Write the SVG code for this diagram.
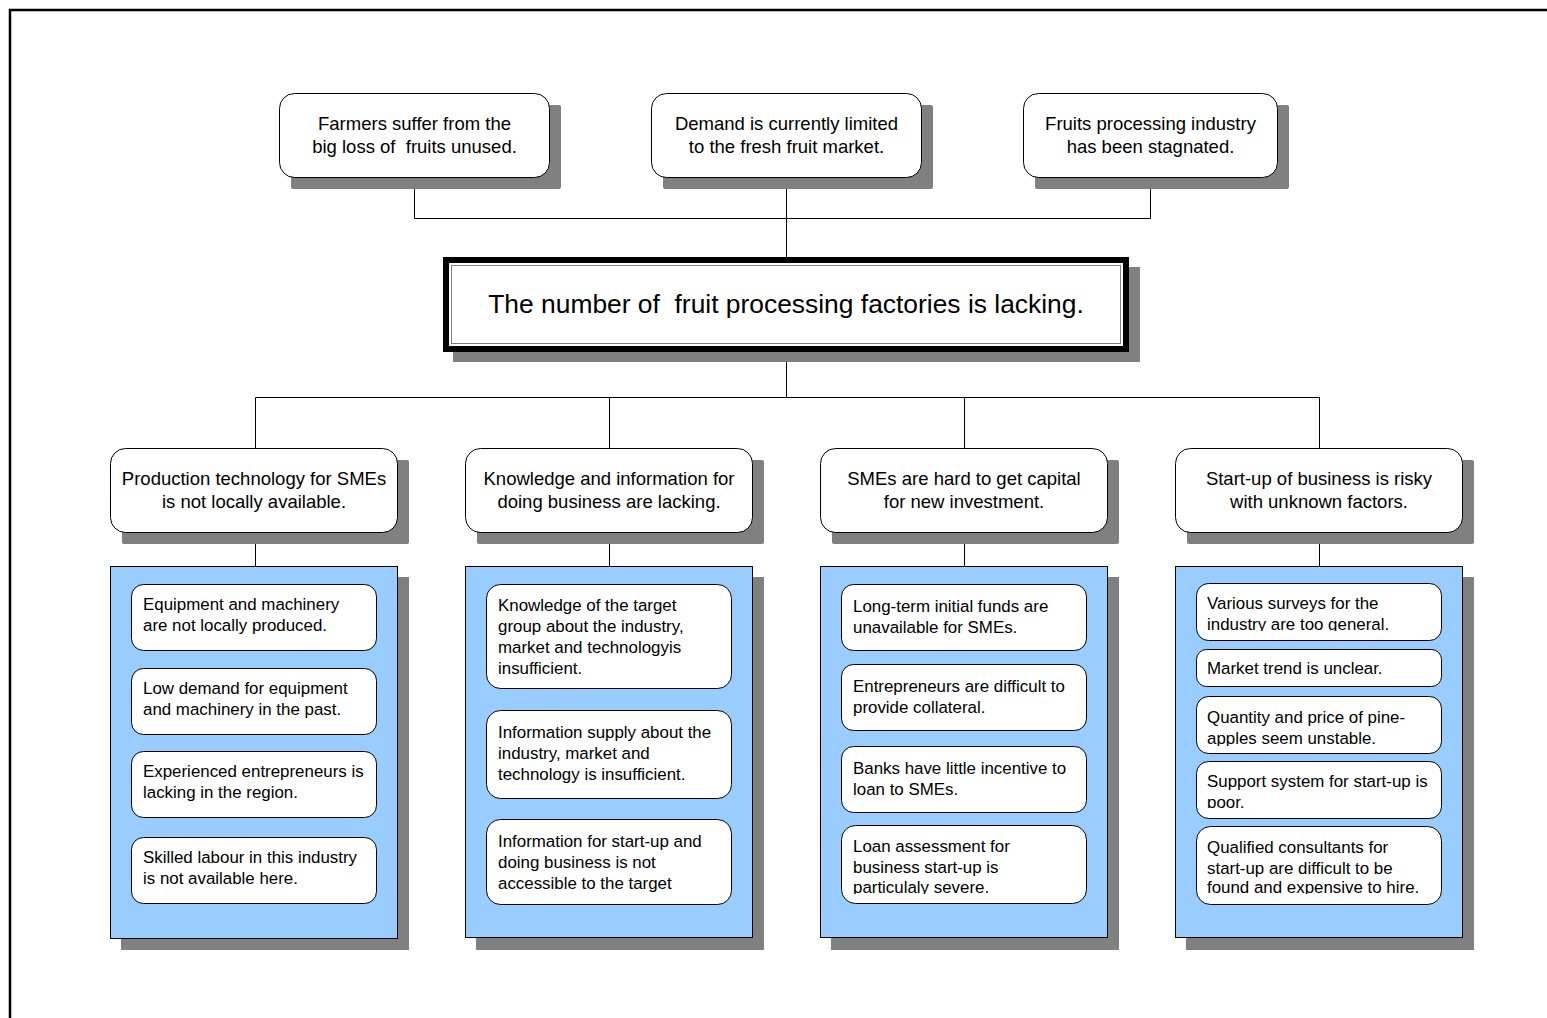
<svg xmlns="http://www.w3.org/2000/svg" width="1547" height="1018" viewBox="0 0 1547 1018">
  <style>
    .shadow { fill: #808080; }
    .box { fill: #ffffff; stroke: #000000; stroke-width: 1; }
    .panel { fill: #99ccff; stroke: #000000; stroke-width: 1; }
    .card { fill: #ffffff; stroke: #000000; stroke-width: 1; }
    .wire { fill: none; stroke: #000000; stroke-width: 1; }
    text { font-family: "Liberation Sans", Arial, sans-serif; fill: #000000; white-space: pre; }
    .t18 { font-size: 18.5px; text-anchor: middle; }
    .t17 { font-size: 16.9px; }
    .t26 { font-size: 26.4px; text-anchor: middle; }
  </style>
  <defs>
    <clipPath id="clipP3c4"><rect x="841" y="826" width="246" height="68"/></clipPath>
    <clipPath id="clipP4c1"><rect x="1196" y="584" width="246" height="47"/></clipPath>
    <clipPath id="clipP4c3"><rect x="1196" y="697" width="246" height="49"/></clipPath>
    <clipPath id="clipP4c4"><rect x="1196" y="762" width="246" height="46"/></clipPath>
    <clipPath id="clipP4c5"><rect x="1196" y="827" width="246" height="67"/></clipPath>
  </defs>

  <rect x="0" y="0" width="1547" height="1018" fill="#ffffff"/>
  <!-- page frame (top and left edges) -->
  <path d="M10,1018 V10 H1547" fill="none" stroke="#000000" stroke-width="2.5"/>

  <!-- connectors -->
  <g id="connectors">
    <path class="wire" d="M414.5,177 V218.5 H1150.5 V177 M786.5,177 V257"/>
    <path class="wire" d="M786.5,352 V397.5 M255.5,448 V397.5 H1319.5 V448 M609.5,397.5 V448 M964.5,397.5 V448"/>
    <path class="wire" d="M255.5,532 V566 M609.5,532 V566 M964.5,532 V566 M1319.5,532 V566"/>
  </g>

  <!-- effects -->
  <g id="effect-farmers">
    <rect class="shadow" x="291" y="105" width="270" height="84" rx="2"/>
    <rect class="box" x="279.5" y="93.5" width="270" height="84" rx="15"/>
    <text class="t18" x="414.5" y="130">Farmers suffer from the</text>
    <text class="t18" x="414.5" y="153">big loss of  fruits unused.</text>
  </g>
  <g id="effect-demand">
    <rect class="shadow" x="663" y="105" width="270" height="84" rx="2"/>
    <rect class="box" x="651.5" y="93.5" width="270" height="84" rx="15"/>
    <text class="t18" x="786.5" y="130">Demand is currently limited</text>
    <text class="t18" x="786.5" y="153">to the fresh fruit market.</text>
  </g>
  <g id="effect-industry">
    <rect class="shadow" x="1035" y="105" width="254" height="84" rx="2"/>
    <rect class="box" x="1023.5" y="93.5" width="254" height="84" rx="15"/>
    <text class="t18" x="1150.5" y="130">Fruits processing industry</text>
    <text class="t18" x="1150.5" y="153">has been stagnated.</text>
  </g>

  <!-- core problem -->
  <g id="core-problem">
    <rect class="shadow" x="453" y="267" width="687" height="95"/>
    <rect x="443" y="257" width="686" height="95" fill="#000000"/>
    <rect x="449" y="263" width="674" height="83" fill="#ffffff"/>
    <rect x="451.5" y="265.5" width="669" height="78" fill="none" stroke="#808080" stroke-width="1"/>
    <text class="t26" x="786" y="313">The number of  fruit processing factories is lacking.</text>
  </g>

  <!-- cause 1 -->
  <g id="cause-technology">
    <rect class="shadow" x="122" y="460" width="287" height="84" rx="2"/>
    <rect class="box" x="110.5" y="448.5" width="287" height="84" rx="15"/>
    <text class="t18" x="254" y="485">Production technology for SMEs</text>
    <text class="t18" x="254" y="508">is not locally available.</text>
  </g>
  <g id="panel-technology">
    <rect class="shadow" x="121" y="577" width="288" height="373"/>
    <rect class="panel" x="110.5" y="566.5" width="287" height="372"/>
    <rect class="card" x="131.5" y="584.5" width="245" height="66" rx="12"/>
    <text class="t17" x="143" y="610">Equipment and machinery</text>
    <text class="t17" x="143" y="631">are not locally produced.</text>
    <rect class="card" x="131.5" y="668.5" width="245" height="66" rx="12"/>
    <text class="t17" x="143" y="694">Low demand for equipment</text>
    <text class="t17" x="143" y="715">and machinery in the past.</text>
    <rect class="card" x="131.5" y="751.5" width="245" height="66" rx="12"/>
    <text class="t17" x="143" y="777">Experienced entrepreneurs is</text>
    <text class="t17" x="143" y="798">lacking in the region.</text>
    <rect class="card" x="131.5" y="837.5" width="245" height="66" rx="12"/>
    <text class="t17" x="143" y="863">Skilled labour in this industry</text>
    <text class="t17" x="143" y="884">is not available here.</text>
  </g>

  <!-- cause 2 -->
  <g id="cause-knowledge">
    <rect class="shadow" x="477" y="460" width="287" height="84" rx="2"/>
    <rect class="box" x="465.5" y="448.5" width="287" height="84" rx="15"/>
    <text class="t18" x="609" y="485">Knowledge and information for</text>
    <text class="t18" x="609" y="508">doing business are lacking.</text>
  </g>
  <g id="panel-knowledge">
    <rect class="shadow" x="476" y="577" width="288" height="373"/>
    <rect class="panel" x="465.5" y="566.5" width="287" height="371"/>
    <rect class="card" x="486.5" y="584.5" width="245" height="104" rx="14"/>
    <text class="t17" x="498" y="611">Knowledge of the target</text>
    <text class="t17" x="498" y="632">group about the industry,</text>
    <text class="t17" x="498" y="653">market and technologyis</text>
    <text class="t17" x="498" y="674">insufficient.</text>
    <rect class="card" x="486.5" y="710.5" width="245" height="88" rx="14"/>
    <text class="t17" x="498" y="738">Information supply about the</text>
    <text class="t17" x="498" y="759">industry, market and</text>
    <text class="t17" x="498" y="780">technology is insufficient.</text>
    <rect class="card" x="486.5" y="819.5" width="245" height="85" rx="14"/>
    <text class="t17" x="498" y="847">Information for start-up and</text>
    <text class="t17" x="498" y="868">doing business is not</text>
    <text class="t17" x="498" y="889">accessible to the target</text>
  </g>

  <!-- cause 3 -->
  <g id="cause-capital">
    <rect class="shadow" x="832" y="460" width="287" height="84" rx="2"/>
    <rect class="box" x="820.5" y="448.5" width="287" height="84" rx="15"/>
    <text class="t18" x="964" y="485">SMEs are hard to get capital</text>
    <text class="t18" x="964" y="508">for new investment.</text>
  </g>
  <g id="panel-capital">
    <rect class="shadow" x="831" y="577" width="288" height="373"/>
    <rect class="panel" x="820.5" y="566.5" width="287" height="371"/>
    <rect class="card" x="841.5" y="584.5" width="245" height="66" rx="12"/>
    <text class="t17" x="853" y="612">Long-term initial funds are</text>
    <text class="t17" x="853" y="633">unavailable for SMEs.</text>
    <rect class="card" x="841.5" y="664.5" width="245" height="66" rx="12"/>
    <text class="t17" x="853" y="692">Entrepreneurs are difficult to</text>
    <text class="t17" x="853" y="713">provide collateral.</text>
    <rect class="card" x="841.5" y="746.5" width="245" height="66" rx="12"/>
    <text class="t17" x="853" y="774">Banks have little incentive to</text>
    <text class="t17" x="853" y="795">loan to SMEs.</text>
    <rect class="card" x="841.5" y="825.5" width="245" height="78" rx="14"/>
    <g clip-path="url(#clipP3c4)">
      <text class="t17" x="853" y="852">Loan assessment for</text>
      <text class="t17" x="853" y="873">business start-up is</text>
      <text class="t17" x="853" y="893">particulaly severe.</text>
    </g>
  </g>

  <!-- cause 4 -->
  <g id="cause-risk">
    <rect class="shadow" x="1187" y="460" width="287" height="84" rx="2"/>
    <rect class="box" x="1175.5" y="448.5" width="287" height="84" rx="15"/>
    <text class="t18" x="1319" y="485">Start-up of business is risky</text>
    <text class="t18" x="1319" y="508">with unknown factors.</text>
  </g>
  <g id="panel-risk">
    <rect class="shadow" x="1186" y="577" width="288" height="373"/>
    <rect class="panel" x="1175.5" y="566.5" width="287" height="371"/>
    <rect class="card" x="1196.5" y="583.5" width="245" height="57" rx="12"/>
    <g clip-path="url(#clipP4c1)">
      <text class="t17" x="1207" y="609">Various surveys for the</text>
      <text class="t17" x="1207" y="630">industry are too general.</text>
    </g>
    <rect class="card" x="1196.5" y="649.5" width="245" height="37" rx="10"/>
    <text class="t17" x="1207" y="674">Market trend is unclear.</text>
    <rect class="card" x="1196.5" y="696.5" width="245" height="57" rx="12"/>
    <g clip-path="url(#clipP4c3)">
      <text class="t17" x="1207" y="723">Quantity and price of pine-</text>
      <text class="t17" x="1207" y="744">apples seem unstable.</text>
    </g>
    <rect class="card" x="1196.5" y="761.5" width="245" height="57" rx="12"/>
    <g clip-path="url(#clipP4c4)">
      <text class="t17" x="1207" y="787">Support system for start-up is</text>
      <text class="t17" x="1207" y="808">poor.</text>
    </g>
    <rect class="card" x="1196.5" y="826.5" width="245" height="78" rx="14"/>
    <g clip-path="url(#clipP4c5)">
      <text class="t17" x="1207" y="853">Qualified consultants for</text>
      <text class="t17" x="1207" y="874">start-up are difficult to be</text>
      <text class="t17" x="1207" y="893">found and expensive to hire.</text>
    </g>
  </g>
</svg>
